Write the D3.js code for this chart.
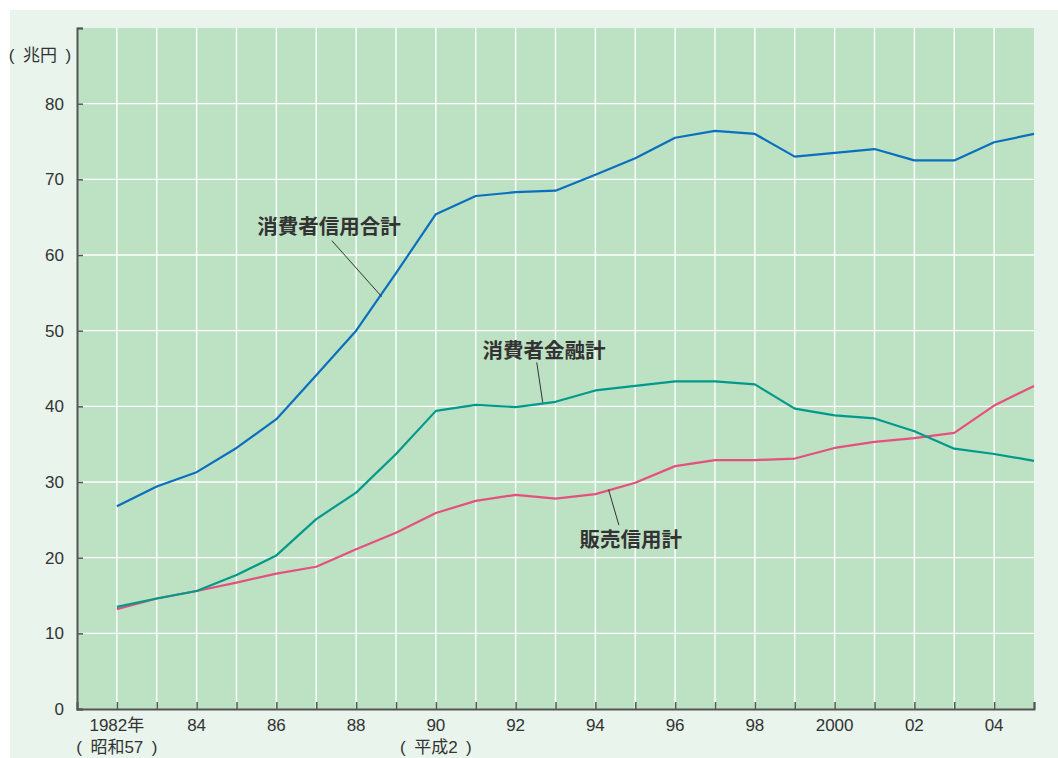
<!DOCTYPE html>
<html lang="ja"><head><meta charset="utf-8">
<script src="https://cdn.jsdelivr.net/npm/d3@7"></script>
<style>body{margin:0;background:#fff}svg{display:block}text{font-family:"Liberation Sans","Noto Sans CJK JP",sans-serif}</style>
</head><body>
<svg id="c" width="1058" height="758"></svg>
<script>
const years = d3.range(1982, 2006);
const totalCredit = [26.8,29.4,31.3,34.5,38.3,44.1,50.0,57.6,65.4,67.8,68.3,68.5,70.6,72.8,75.5,76.4,76.0,73.0,73.5,74.0,72.5,72.5,74.9,76.0];
const consumerLoans = [13.5,14.6,15.6,17.7,20.3,25.1,28.6,33.7,39.4,40.2,39.9,40.6,42.1,42.7,43.3,43.3,42.9,39.7,38.8,38.4,36.7,34.4,33.7,32.8];
const salesCredit = [13.2,14.6,15.6,16.7,17.9,18.8,21.1,23.3,25.9,27.5,28.3,27.8,28.4,29.9,32.1,32.9,32.9,33.1,34.5,35.3,35.8,36.5,40.1,42.7];
const seriesNames = ["消費者信用合計","消費者金融計","販売信用計"];
const seriesColors = ["#0a6fbf","#00998c","#e5507e"];
const yTicks = [0,10,20,30,40,50,60,70,80];
const xLabelYears = [1982,1984,1986,1988,1990,1992,1994,1996,1998,2000,2002,2004];
const xLabels = ["1982年","84","86","88","90","92","94","96","98","2000","02","04"];
const xSubLabels = {1982:"(\u2002昭和57\u2002)",1990:"(\u2002平成2\u2002)"};
const yUnit = "(\u2002兆円\u2002)";
// annotation: label centre (year,value) and leader line from/to (year,value)
const annotations = [
  {text:"消費者信用合計", lx:1987.32, ly:63.8, x1:1987.39, y1:61.9, x2:1988.64, y2:54.5},
  {text:"消費者金融計", lx:1992.71, ly:47.4, x1:1992.53, y1:45.8, x2:1992.68, y2:40.5},
  {text:"販売信用計", lx:1994.89, ly:22.4, x1:1994.33, y1:29.0, x2:1994.59, y2:24.3}
];

const svg = d3.select("#c");
const M = {l:77, r:1034, t:28, b:709};
svg.append("rect").attr("x",10).attr("y",10).attr("width",1048).attr("height",748).attr("fill","#e8f4ec");
const x = d3.scaleLinear().domain([1981,2005]).range([M.l,M.r]);
const y = d3.scaleLinear().domain([0,90]).range([M.b,M.t]);
svg.append("rect").attr("x",M.l).attr("y",M.t).attr("width",M.r-M.l).attr("height",M.b-M.t).attr("fill","#bde1c3");

// grid
svg.append("g").selectAll("line").data(d3.range(1982,2005)).join("line")
  .attr("x1",d=>x(d)).attr("x2",d=>x(d)).attr("y1",M.t).attr("y2",M.b)
  .attr("stroke","#fff").attr("stroke-width",1.4);
svg.append("g").selectAll("line").data(yTicks.filter(d=>d>0)).join("line")
  .attr("x1",M.l).attr("x2",M.r).attr("y1",d=>y(d)).attr("y2",d=>y(d))
  .attr("stroke","#fff").attr("stroke-width",1.4);

// axes
const yAxis = d3.axisLeft(y).tickValues(d3.range(0,91,10)).tickSize(-6).tickFormat(d=>yTicks.includes(d)?d:"").tickPadding(13);
const gy = svg.append("g").attr("transform",`translate(${M.l},0)`).call(yAxis);
gy.select(".domain").attr("stroke","#555").attr("stroke-width",2);
gy.selectAll(".tick line").attr("stroke","#555").attr("stroke-width",1.5);
gy.selectAll(".tick text").attr("font-size",17).attr("fill","#333").attr("font-family","Liberation Sans, Arial, sans-serif");

const xAxis = d3.axisBottom(x).tickValues(d3.range(1982,2006)).tickSize(-7).tickFormat("");
const gx = svg.append("g").attr("transform",`translate(0,${M.b})`).call(xAxis);
gx.select(".domain").attr("stroke","#555").attr("stroke-width",2);
gx.selectAll(".tick line").attr("stroke","#555").attr("stroke-width",1.5);

svg.append("g").selectAll("text").data(xLabelYears).join("text")
  .attr("x",d=>x(d)).attr("y",731).attr("text-anchor","middle")
  .attr("font-size",17).attr("fill","#333")
  .text((d,i)=>xLabels[i]);
svg.append("g").selectAll("text").data(Object.keys(xSubLabels)).join("text")
  .attr("x",d=>x(+d)).attr("y",753).attr("text-anchor","middle")
  .attr("font-size",17).attr("fill","#333")
  .text(d=>xSubLabels[d]);
svg.append("text").attr("x",40).attr("y",61).attr("text-anchor","middle")
  .attr("font-size",17).attr("fill","#333").text(yUnit);

// lines
const allSeries = [totalCredit, consumerLoans, salesCredit];
const line = d3.line().x((d,i)=>x(years[i])).y(d=>y(d));
svg.append("g").selectAll("path").data([salesCredit, consumerLoans, totalCredit]).join("path")
  .attr("d",line).attr("fill","none")
  .attr("stroke",d=>seriesColors[allSeries.indexOf(d)]).attr("stroke-width",2.2)
  .attr("stroke-linejoin","round");

// annotations
const ga = svg.append("g");
ga.selectAll("line").data(annotations).join("line")
  .attr("x1",d=>x(d.x1)).attr("y1",d=>y(d.y1)).attr("x2",d=>x(d.x2)).attr("y2",d=>y(d.y2))
  .attr("stroke","#333").attr("stroke-width",1);
ga.selectAll("text").data(annotations).join("text")
  .attr("x",d=>x(d.lx)).attr("y",d=>y(d.ly)).attr("text-anchor","middle").attr("dominant-baseline","central")
  .attr("font-size",20.5).attr("font-weight","bold").attr("fill","#333")
  .attr("font-family","Noto Sans CJK JP, sans-serif")
  .text(d=>d.text);
</script>
</body></html>
